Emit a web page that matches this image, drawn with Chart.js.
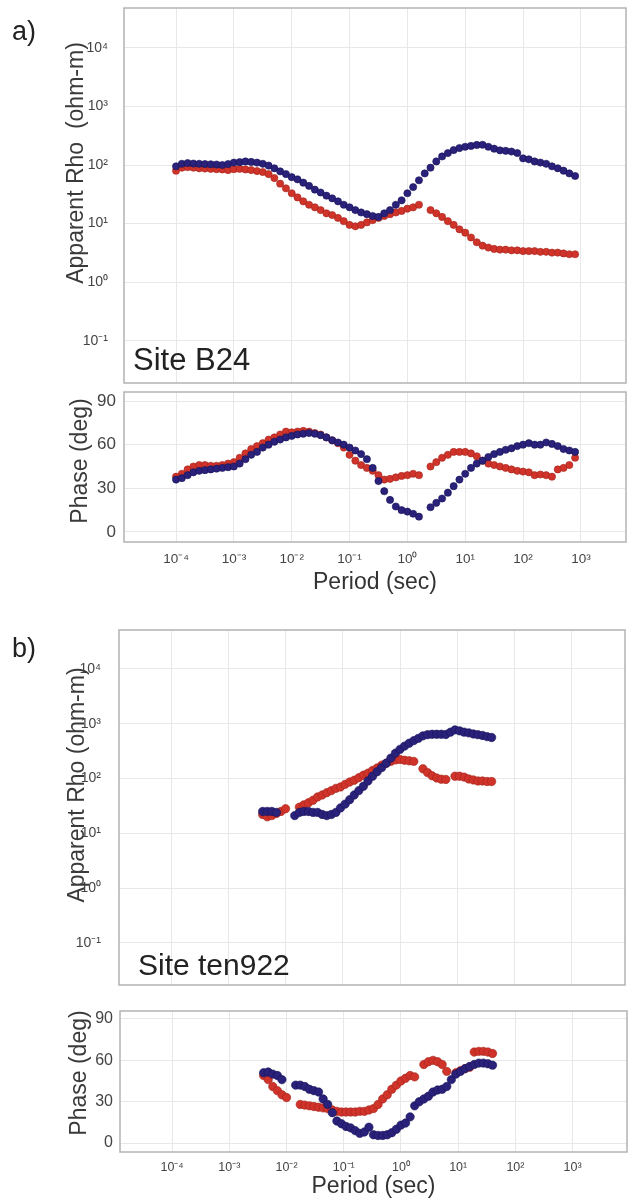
<!DOCTYPE html>
<html lang="en">
<head>
<meta charset="UTF-8" />
<title>Apparent Rho and Phase - Sites B24 and ten922</title>
<script src="https://cdn.jsdelivr.net/npm/chart.js"></script>
<style>
    body {
        margin: 0;
        background: #fff;
        font-family: 'Liberation Sans', Arial, sans-serif;
    }
    .page {
        position: relative;
        width: 636px;
        height: 1202px;
        overflow: hidden;
    }
    canvas {
        position: absolute;
        left: 0;
    }
    .tag, .site, .ytitle {
        position: absolute;
        line-height: 1;
        white-space: pre;
        z-index: 2;
    }
    .tag { font-size: 27px; color: #222; }
    .site { font-size: 31px; color: #222; }
    .ytitle {
        font-size: 23px;
        color: #3a3a3a;
        transform: translate(-50%, -50%) rotate(-90deg);
    }
</style>
</head>
<body>
<div class="page">
    <canvas id="rhoA" width="636" height="392" style="top:0px"></canvas>
    <canvas id="phaseA" width="636" height="214" style="top:386px"></canvas>
    <canvas id="rhoB" width="636" height="392" style="top:600px"></canvas>
    <canvas id="phaseB" width="636" height="202" style="top:1000px"></canvas>

    <div class="tag" style="left:12px; top:18px;">a)</div>
    <div class="tag" style="left:12px; top:635px;">b)</div>
    <div class="site" style="left:133px; top:344px;">Site B24</div>
    <div class="site" style="left:138px; top:950px; font-size:30px;">Site ten922</div>
    <div class="ytitle" style="left:75px; top:163px;">Apparent Rho  (ohm-m)</div>
    <div class="ytitle" style="left:79px; top:461px;">Phase (deg)</div>
    <div class="ytitle" style="left:76px; top:785px;">Apparent Rho (ohm-m)</div>
    <div class="ytitle" style="left:78px; top:1073px;">Phase (deg)</div>
</div>

<script>
    // ---- data (periods given as log10 of seconds) ----
    const periodTicks = [1e-4, 1e-3, 1e-2, 1e-1, 1, 10, 100, 1000];
    const rhoTicks = [0.1, 1, 10, 100, 1000, 10000];
    const phaseTicks = [0, 30, 60, 90];

    // Site B24
    const logPeriodsA = [-4.0, -3.9, -3.8, -3.7, -3.6, -3.5, -3.4, -3.3, -3.2, -3.1,
                         -3.0, -2.9, -2.8, -2.7, -2.6, -2.5, -2.4, -2.3, -2.2, -2.1,
                         -2.0, -1.9, -1.8, -1.7, -1.6, -1.5, -1.4, -1.3, -1.2, -1.1,
                         -1.0, -0.9, -0.8, -0.7, -0.6, -0.5, -0.4, -0.3, -0.2, -0.1,
                         0.0, 0.1, 0.2, 0.3, 0.4, 0.5, 0.6, 0.7, 0.8, 0.9,
                         1.0, 1.1, 1.2, 1.3, 1.4, 1.5, 1.6, 1.7, 1.8, 1.9,
                         2.0, 2.1, 2.2, 2.3, 2.4, 2.5, 2.6, 2.7, 2.8, 2.9];
    const rhoA_blue = [95, 105, 108, 106, 105, 104, 103, 102, 100, 104,
                       110, 112, 115, 113, 110, 105, 98, 88, 78, 70,
                       62, 57, 50, 44, 38, 34, 30, 27, 24, 21,
                       19, 17, 15.5, 14.5, 13.5, 13, 15, 17, 21, 25,
                       33, 42, 55, 72, 90, 115, 140, 160, 180, 195,
                       205, 212, 220, 222, 205, 190, 178, 175, 170, 160,
                       130, 125, 115, 110, 105, 95, 88, 80, 72, 65];
    const rhoA_red = [80, 90, 92, 90, 88, 87, 86, 85, 84, 82,
                      85, 86, 84, 82, 79, 76, 70, 60, 48, 40,
                      33, 28, 24, 21, 19, 17, 15, 14, 12.5, 11,
                      9.5, 9, 9.5, 10.5, 11.5, 12.5, 13.5, 14.5, 15.5, 16.5,
                      18, 19, 21, null, 17, 15, 13, 11, 9.5, 8,
                      7, 5.8, 4.8, 4.2, 3.9, 3.7, 3.6, 3.6, 3.5, 3.5,
                      3.4, 3.4, 3.4, 3.3, 3.3, 3.2, 3.2, 3.1, 3.0, 3.0];
    const phaseA_blue = [36, 37, 39, 41, 42, 42.5, 43, 43.5, 44, 44.5,
                         45, 47, 50, 53, 55, 58, 60, 62, 63.5, 65,
                         66, 67, 67.5, 68, 67.5, 66.5, 65, 63, 61.5, 60,
                         58, 56, 53.5, 50, 44, 35, 28, 22, 17.5, 15,
                         14, 12.5, 10.5, null, 17, 20, 23, 27, 31.5, 36,
                         40, 44, 47, 49, 51.5, 53.5, 55, 56.5, 57.5, 59,
                         60, 61, 60, 60, 61.5, 60.5, 59, 57, 56, 55];
    const phaseA_red = [38, 40, 43, 45, 46, 46, 45.5, 45.5, 46, 47,
                        48, 51, 54, 57, 59, 61, 63.5, 65, 67, 69,
                        68.5, 69, 69.5, 69, 68, 67, 65, 63, 61, 58,
                        53, 49, 46, 44, 42, 39, 36, 36.5, 37.5, 38.5,
                        39, 40, 39, null, 45, 48, 51, 53, 55, 55,
                        55, 54, 52, 49, 47, 46, 45, 44, 43, 42,
                        41.5, 41, 39, 39.5, 39, 38, 43, 44, 46, 51];

    // Site ten922
    const logPeriodsB = [-2.40, -2.32, -2.24, -2.16, -2.08, -2.00, -1.92, -1.84, -1.76, -1.68,
                         -1.60, -1.52, -1.44, -1.36, -1.28, -1.20, -1.12, -1.04, -0.96, -0.88,
                         -0.80, -0.72, -0.64, -0.56, -0.48, -0.40, -0.32, -0.24, -0.16, -0.08,
                         0.00, 0.08, 0.16, 0.24, 0.32, 0.40, 0.48, 0.56, 0.64, 0.72,
                         0.80, 0.88, 0.96, 1.04, 1.12, 1.20, 1.28, 1.36, 1.44, 1.52,
                         1.60];
    const rhoB_blue = [25, 25, 25, 24, null, null, null, 21, 24, 25,
                       25, 24, 24, 22, 21, 22, 24, 29, 34, 41,
                       50, 60, 72, 90, 110, 133, 158, 190, 235, 290,
                       340, 390, 440, 490, 540, 600, 630, 640, 640, 640,
                       635, 700, 770, 740, 700, 680, 650, 630, 610, 580,
                       560];
    const rhoB_red = [22, 20, 21, 23, 25, 28, null, null, 30, 33,
                      36, 40, 46, 50, 55, 60, 66, 70, 78, 86,
                      93, 103, 115, 125, 140, 155, 175, 190, 205, 218,
                      222, 215, 210, 205, null, 150, 128, 112, 102, 97,
                      96, null, 110, 110, 106, 98, 94, 90, 90, 88,
                      88];
    const phaseB_blue = [51, 51.5, 50, 49, 46, null, null, 42, 42, 41,
                         39, 38, 37, 32, 28, 22, 16, 14, 12, 11,
                         9, 7, 8, 11.5, 6, 5.5, 5.5, 6, 7.5, 10,
                         13, 14.5, 19, 27, 30, 32, 34, 37, 38.5, 39,
                         41, 46, 50, 52, 54, 55.5, 57, 58, 58, 57.5,
                         56.5];
    const phaseB_red = [49, 46, 41, 38, 35, 33, null, null, 28, 27.5,
                        27, 26.5, 26, 25.5, 25, 24, 23, 22.5, 22.5, 22.5,
                        22.5, 23, 23, 24, 25, 28, 32, 35, 39, 42,
                        45, 47, 49, 48, null, 57, 59, 60, 59, 57,
                        52, null, 51, 52.5, 54, 55, 66, 66.5, 66.5, 66,
                        65];

    // ---- styling ----
    Chart.defaults.font.family = "'Liberation Sans', Arial, sans-serif";
    const BLUE = '#29217a', BLUE_EDGE = '#191358';
    const RED = '#cf3329', RED_EDGE = '#a3241d';
    const GRID = '#e8e8e8';

    const SUP = {'-': '⁻', '0': '⁰', '1': '¹', '2': '²', '3': '³', '4': '⁴',
                 '5': '⁵', '6': '⁶', '7': '⁷', '8': '⁸', '9': '⁹'};
    function decadeLabel(v) {
        const e = Math.round(Math.log10(v));
        return '10' + String(e).split('').map(c => SUP[c]).join('');
    }

    // grey box round the plot area
    const framePlugin = {
        id: 'frame',
        beforeDatasetsDraw(chart) {
            const { ctx, chartArea: a } = chart;
            ctx.save();
            ctx.strokeStyle = '#b3b3b3';
            ctx.lineWidth = 1.5;
            ctx.strokeRect(a.left, a.top, a.right - a.left, a.bottom - a.top);
            ctx.restore();
        }
    };

    function series(logs, vals, color, edge, r) {
        return {
            data: logs.map((e, i) => ({ x: Math.pow(10, e), y: vals[i] })),
            backgroundColor: color,
            borderColor: edge,
            borderWidth: 0.6,
            pointRadius: r,
            pointHoverRadius: r
        };
    }

    function setTicks(list) {
        return scale => { scale.ticks = list.map(v => ({ value: v })); };
    }
    function fixWidth(w) {
        return scale => { scale.width = w; scale.paddingTop = 0; scale.paddingBottom = 0; };
    }
    function fixHeight(h) {
        return scale => { scale.height = h; scale.paddingLeft = 0; scale.paddingRight = 0; };
    }

    function periodAxis(lo, hi, labels) {
        const axis = {
            type: 'logarithmic',
            bounds: 'data',
            min: Math.pow(10, lo),
            max: Math.pow(10, hi),
            afterBuildTicks: setTicks(periodTicks),
            grid: { color: GRID, drawTicks: false },
            border: { display: false },
            ticks: { display: false }
        };
        if (labels) {
            axis.ticks = { display: true, callback: decadeLabel, color: '#444',
                           font: { size: labels.size }, padding: labels.padding, maxRotation: 0 };
            axis.title = { display: true, text: 'Period (sec)', color: '#333',
                           font: { size: 23 }, padding: { top: 0, bottom: labels.titlePad } };
            axis.afterFit = fixHeight(labels.height);
        } else {
            axis.afterFit = fixHeight(0);
        }
        return axis;
    }

    function rhoAxis(lo, hi, width, pad) {
        return {
            type: 'logarithmic',
            bounds: 'data',
            min: Math.pow(10, lo),
            max: Math.pow(10, hi),
            afterBuildTicks: setTicks(rhoTicks),
            afterFit: fixWidth(width),
            grid: { color: GRID, drawTicks: false },
            border: { display: false },
            ticks: { callback: decadeLabel, color: '#444', font: { size: 14 }, padding: pad }
        };
    }

    function phaseAxis(lo, hi, width, size, pad) {
        return {
            type: 'linear',
            bounds: 'data',
            min: lo,
            max: hi,
            afterBuildTicks: setTicks(phaseTicks),
            afterFit: fixWidth(width),
            grid: { color: GRID, drawTicks: false },
            border: { display: false },
            ticks: { color: '#444', font: { size: size }, padding: pad }
        };
    }

    function buildChart(id, datasets, padding, x, y) {
        return new Chart(document.getElementById(id), {
            type: 'scatter',
            data: { datasets: datasets },
            options: {
                responsive: false,
                animation: false,
                events: [],
                layout: { padding: padding },
                plugins: { legend: { display: false }, tooltip: { enabled: false } },
                scales: { x: x, y: y }
            },
            plugins: [framePlugin]
        });
    }

    // a) Site B24
    buildChart('rhoA',
        [series(logPeriodsA, rhoA_blue, BLUE, BLUE_EDGE, 3.6),
         series(logPeriodsA, rhoA_red, RED, RED_EDGE, 3.6)],
        { top: 8, right: 10, bottom: 9, left: 0 },
        periodAxis(-4.9, 3.78, null),
        rhoAxis(-1.72, 4.68, 124, 16));

    buildChart('phaseA',
        [series(logPeriodsA, phaseA_blue, BLUE, BLUE_EDGE, 3.6),
         series(logPeriodsA, phaseA_red, RED, RED_EDGE, 3.6)],
        { top: 6, right: 10, bottom: 0, left: 0 },
        periodAxis(-4.9, 3.78, { size: 13.5, padding: 9, titlePad: 4, height: 58 }),
        phaseAxis(-6.9, 96.2, 124, 17, 8));

    // b) Site ten922
    buildChart('rhoB',
        [series(logPeriodsB, rhoB_blue, BLUE, BLUE_EDGE, 4.2),
         series(logPeriodsB, rhoB_red, RED, RED_EDGE, 4.2)],
        { top: 30, right: 11, bottom: 7, left: 0 },
        periodAxis(-4.91, 3.93, null),
        rhoAxis(-1.77, 4.71, 119, 18));

    buildChart('phaseB',
        [series(logPeriodsB, phaseB_blue, BLUE, BLUE_EDGE, 4.2),
         series(logPeriodsB, phaseB_red, RED, RED_EDGE, 4.2)],
        { top: 11, right: 9, bottom: 0, left: 0 },
        periodAxis(-4.91, 3.95, { size: 12.5, padding: 8.5, titlePad: 2, height: 50 }),
        phaseAxis(-6.5, 95.8, 120, 16, 7));
</script>
</body>
</html>
